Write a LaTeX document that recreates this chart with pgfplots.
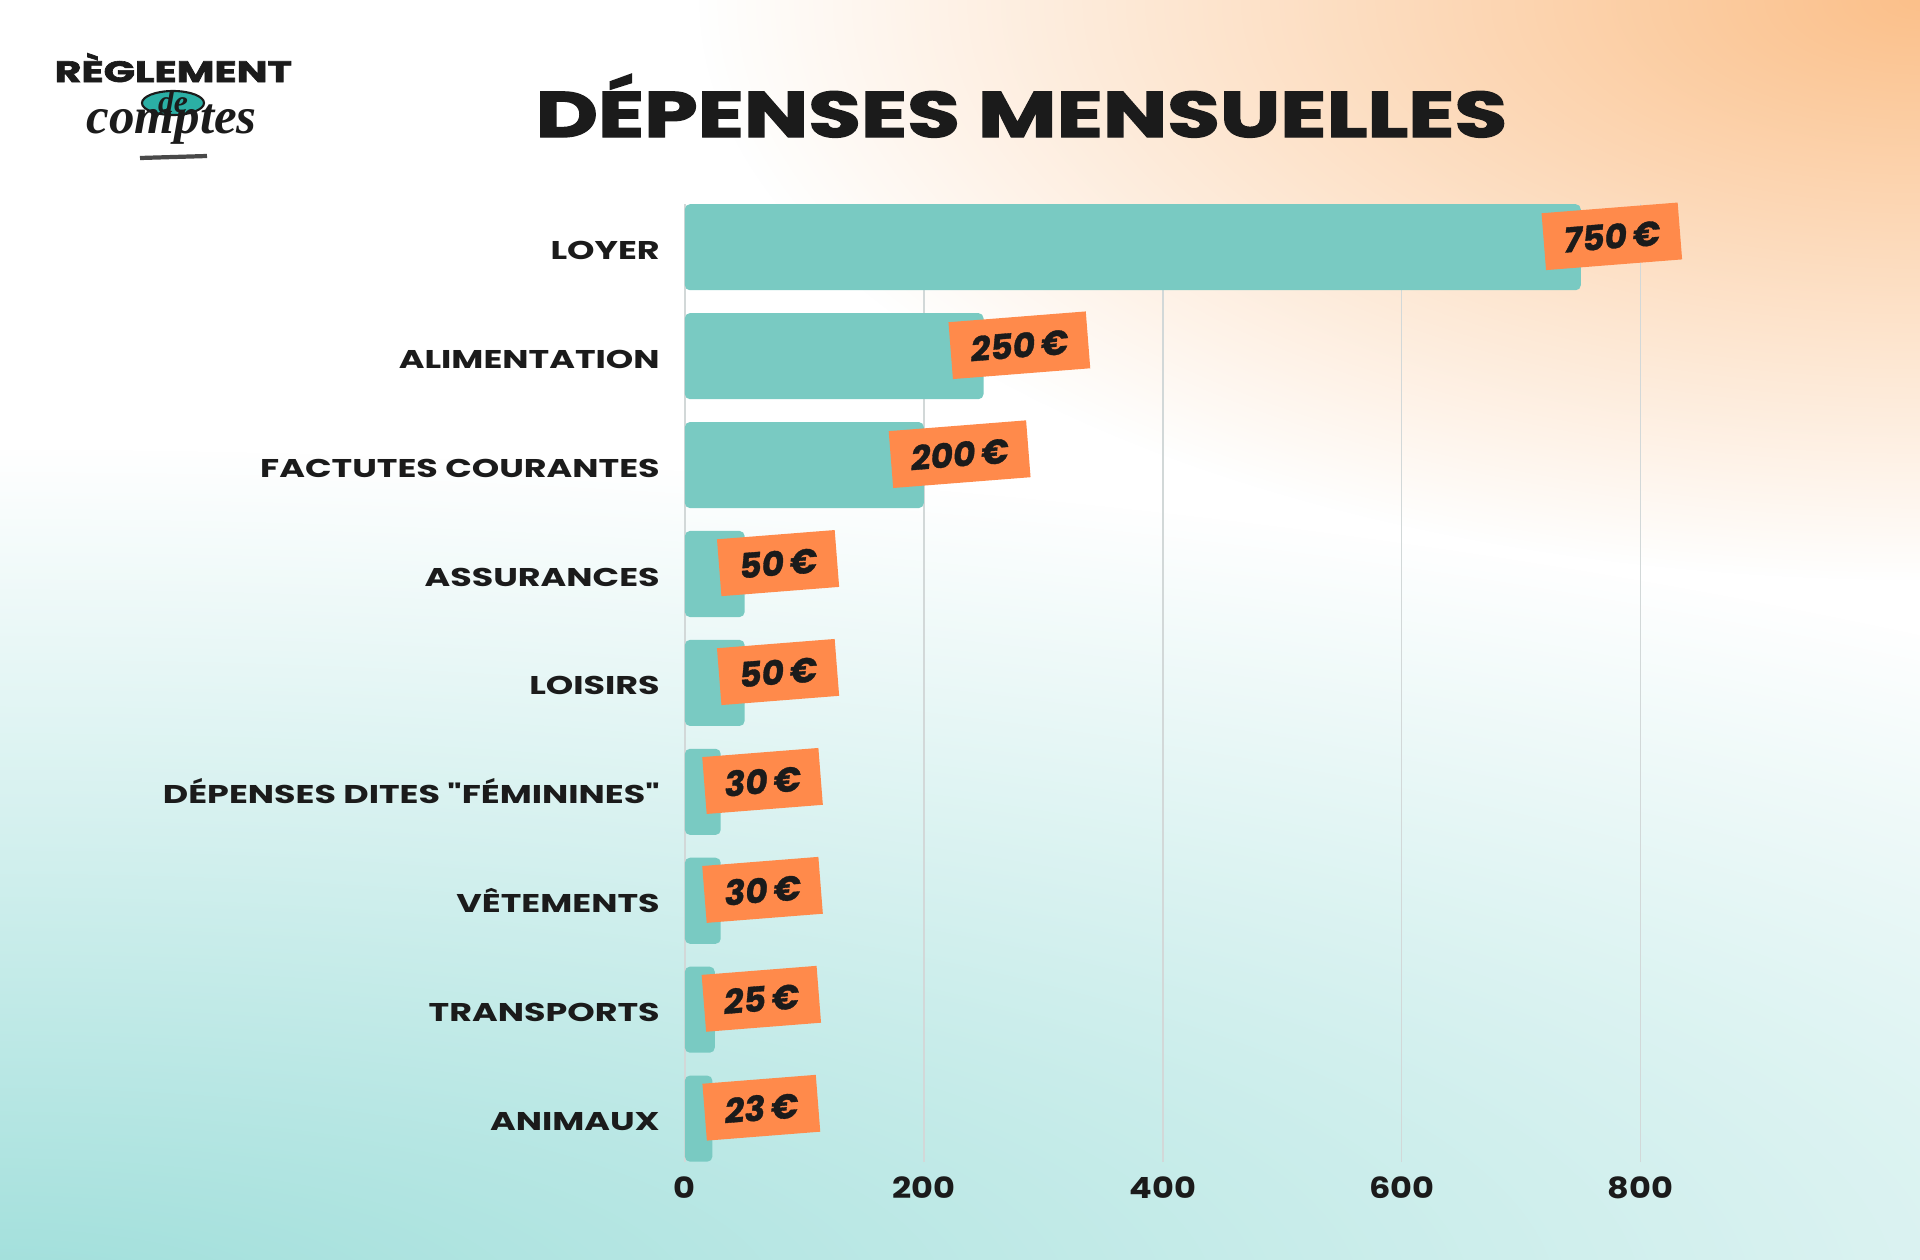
\documentclass[border=0pt]{standalone}
\usepackage{fontspec}
\setmainfont{Poppins}[Ligatures=TeXOff]
\setsansfont{Poppins}[Ligatures=TeXOff]
\newfontfamily\titlefont{Poppins}[BoldFeatures={FakeBold=2}]
\newfontfamily\labfont{Poppins}[BoldItalicFeatures={FakeBold=1}]
\newfontfamily\serifx{Liberation Serif}
\usepackage{pgfplots}
\pgfplotsset{compat=1.18}
\usepackage{pgfplotstable}
\usetikzlibrary{fadings}
\definecolor{barc}{HTML}{79CAC2}
\definecolor{labc}{HTML}{FF8A4B}
\definecolor{darkc}{HTML}{1B1B1B}
\definecolor{gridc}{HTML}{D2D8D8}
\definecolor{tealbg}{HTML}{A0DFDB}
\definecolor{orangebg}{HTML}{FBC08A}
\definecolor{logoteal}{HTML}{2BAFA5}
\tikzfading[name=radfade, inner color=transparent!0, outer color=transparent!100]
\newcommand\W[1]{\scalebox{1.36}[1]{#1}}
\pgfplotstableread{
y v lx ly lab
0 23 64 0.1 23
1 25 64 1.1 25
2 30 65 2.1 30
3 30 65 3.1 30
4 50 78 4.1 50
5 50 78 5.1 50
6 200 230 6.1 200
7 250 280 7.1 250
8 750 776 8.1 750
}\data
\begin{document}
\begin{tikzpicture}
\begin{scope}[x=0.01cm,y=-0.01cm]
\useasboundingbox (0,0) rectangle (1920,1260);
\begin{scope}
\clip (0,0) rectangle (1920,1260);
\fill[white] (0,0) rectangle (1920,1260);
\fill[tealbg, path fading=radfade] (0,1300) ellipse (3100 and 850);
\fill[orangebg, path fading=radfade] (1920,0) ellipse (1220 and 580);
\end{scope}
% logo
\node[anchor=base west, inner sep=0, text=darkc] at (54,82) {\titlefont\bfseries\fontsize{8.4}{9}\selectfont\scalebox{1.39}[1]{RÈGLEMENT}};
\draw[fill=logoteal, draw=darkc, line width=0.6pt] (173,103) ellipse (31 and 12);
\node[text=darkc, inner sep=0] at (173,102) {\serifx\bfseries\itshape\fontsize{9}{10}\selectfont de};
\node[anchor=base west, inner sep=0, text=darkc] at (86,133) {\serifx\bfseries\itshape\fontsize{14.5}{16}\selectfont comptes};
\draw[line width=1.2pt, darkc!80] (140,158) -- (207,156);
% title
\node[anchor=base west, inner sep=0, text=darkc] at (535,137) {\titlefont\bfseries\fontsize{18.3}{20}\selectfont\scalebox{1.33}[1]{DÉPENSES MENSUELLES}};
\end{scope}
\begin{axis}[
  at={(6.845cm,-11.615cm)}, anchor=south west,
  scale only axis, width=9.551cm, height=9.58cm,
  xmin=0, xmax=800, ymin=-0.4, ymax=8.4,
  axis line style={draw=none},
  major tick length=0,
  xtick={0,200,400,600,800},
  xticklabels={\scalebox{1.15}[1]{0},\scalebox{1.15}[1]{200},\scalebox{1.15}[1]{400},\scalebox{1.15}[1]{600},\scalebox{1.15}[1]{800}},
  ytick={0,...,8},
  yticklabels={\W{ANIMAUX},\W{TRANSPORTS},\W{VÊTEMENTS},\W{DÉPENSES DITES "FÉMININES"},\W{LOISIRS},\W{ASSURANCES},\W{FACTUTES COURANTES},\W{ALIMENTATION},\W{LOYER}},
  xmajorgrids, ymajorgrids=false,
  grid style={gridc, line width=0.5pt},
  xticklabel style={font=\bfseries\fontsize{8.3}{9}\selectfont, text=darkc, anchor=base, inner sep=0pt, yshift=-0.365cm},
  yticklabel style={font=\bfseries\fontsize{7.3}{9}\selectfont, text=darkc, anchor=base east, inner sep=0pt, xshift=-0.245cm, yshift=-0.12cm},
  clip=false,
]
\addplot[xbar, bar width=0.79, fill=barc, draw=none, rounded corners=0.05cm] table[x=v,y=y]{\data};
\addplot[draw=none, mark=none, point meta=explicit symbolic,
  nodes near coords={\pgfplotspointmeta\,€},
  nodes near coords style={anchor=center, fill=labc, rotate=4.5, minimum height=0.57cm, inner xsep=0.2cm, inner ysep=0pt, text=darkc, font=\labfont\bfseries\itshape\fontsize{9.8}{10}\selectfont}]
  table[x=lx,y=ly,meta=lab]{\data};
\end{axis}
\end{tikzpicture}
\end{document}
